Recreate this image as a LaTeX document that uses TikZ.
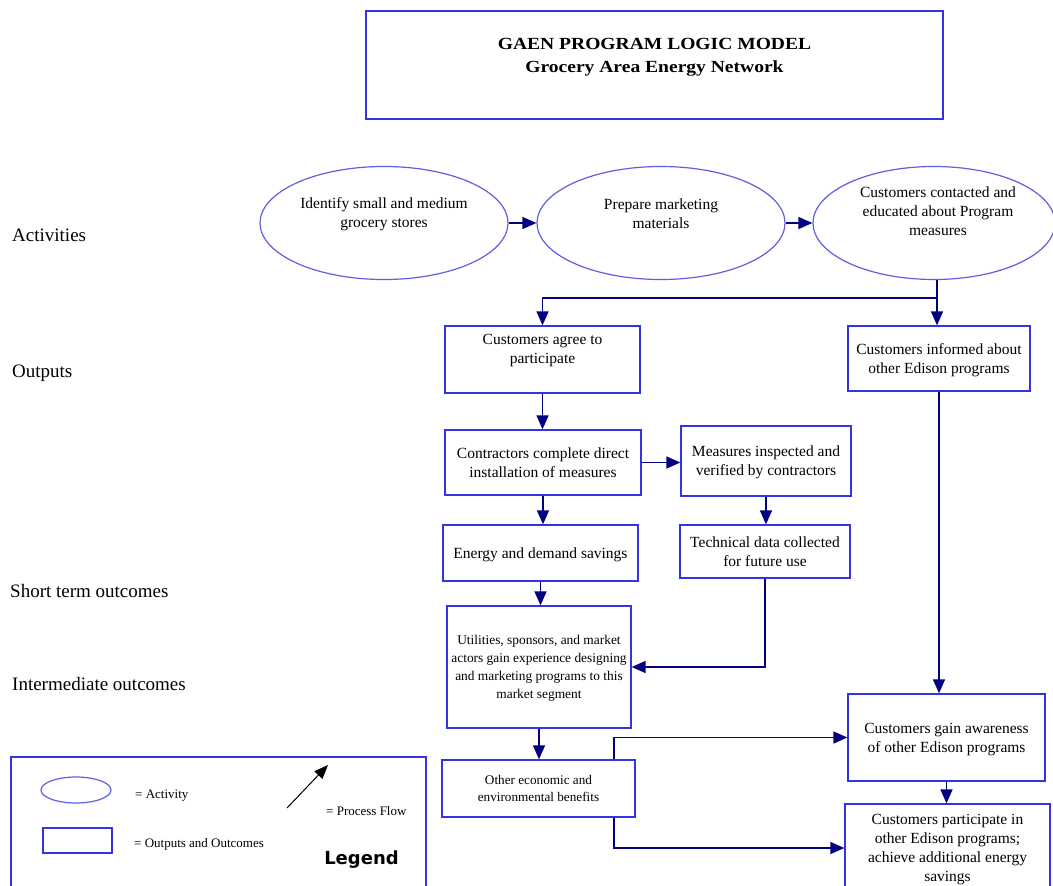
\documentclass[tikz,border=0pt]{standalone}
\usepackage{fontspec}
\setmainfont{Liberation Serif}
\newfontfamily\titlefont{Liberation Serif}[FakeStretch=1.15]
\newfontfamily\legendfont{DejaVu Sans}
\usetikzlibrary{arrows.meta,shapes.geometric}
\definecolor{boxblue}{RGB}{51,51,230}
\definecolor{ovalblue}{RGB}{95,95,225}
\definecolor{flownavy}{RGB}{0,0,128}

\begin{document}
\begin{tikzpicture}[x=1pt,y=-1pt,
  box/.style={draw=boxblue, line width=1.3pt, rectangle, inner sep=0pt},
  oval/.style={draw=ovalblue, line width=1.2pt, ellipse, inner sep=0pt},
  txt/.style={align=center, inner sep=0pt, text depth=0pt, font=\fontsize{15.5}{19}\selectfont},
  smalltxt/.style={align=center, inner sep=0pt, text depth=0pt, font=\fontsize{13.4}{18}\selectfont},
  legendtxt/.style={anchor=west, inner sep=0pt, text depth=0pt, text height=9pt, font=\fontsize{13}{16}\selectfont},
  rowlabel/.style={anchor=west, inner sep=0pt, text depth=0pt, text height=13pt, font=\fontsize{19}{23}\selectfont},
  flowline/.style={draw=flownavy, line width=1.5pt},
  flow/.style={flowline, -{Triangle[length=14pt,width=12pt]}},
  ]
\useasboundingbox (0,0) rectangle (1053,886);
\clip (0,0) rectangle (1053,886);
\fill[white] (0,0) rectangle (1053,886);

% title block
\node[box, minimum width=577pt, minimum height=108pt] (title) at (654.5,65) {};
\node[align=center, inner sep=0pt, text depth=0pt, font=\titlefont\bfseries\fontsize{17}{23}\selectfont]
  (titletext) at (654.5,55.5) {GAEN PROGRAM LOGIC MODEL\\Grocery Area Energy Network};

% row labels
\node[rowlabel] (lact) at (12,235) {Activities};
\node[rowlabel] (lout) at (12,371) {Outputs};
\node[rowlabel] (lshort) at (10,591) {Short term outcomes};
\node[rowlabel] (linter) at (12,684) {Intermediate outcomes};

% activities
\node[oval, minimum width=248pt, minimum height=113pt] (e1) at (384,223) {};
\node[txt] (e1text) at (384,212.5) {Identify small and medium\\grocery stores};
\node[oval, minimum width=248pt, minimum height=113pt] (e2) at (661,223) {};
\node[txt] (e2text) at (661,213.5) {Prepare marketing\\materials};
\node[oval, minimum width=242pt, minimum height=113pt] (e3) at (934,223) {};
\node[txt] (e3text) at (938,211) {Customers contacted and\\educated about Program\\measures};

% outputs and outcomes
\node[box, minimum width=195pt, minimum height=67pt] (b1) at (542.5,359.5) {};
\node[txt] (b1text) at (542.5,348.5) {Customers agree to\\participate};
\node[box, txt, minimum width=182pt, minimum height=65pt] (b2) at (939,358.5)
  {Customers informed about\\other Edison programs};
\node[box, txt, minimum width=196pt, minimum height=65pt] (b3) at (543,462.5)
  {Contractors complete direct\\installation of measures};
\node[box, txt, minimum width=170pt, minimum height=70pt] (b4) at (766,461)
  {Measures inspected and\\verified by contractors};
\node[box, txt, minimum width=195pt, minimum height=56pt] (b5) at (540.5,553)
  {Energy and demand savings};
\node[box, txt, minimum width=170pt, minimum height=53pt] (b6) at (765,551.5)
  {Technical data collected\\for future use};
\node[box, smalltxt, minimum width=184pt, minimum height=122pt] (b7) at (539,667)
  {Utilities, sponsors, and market\\actors gain experience designing\\and marketing programs to this\\market segment};
\node[box, smalltxt, font=\fontsize{13.2}{17}\selectfont, minimum width=193pt, minimum height=57pt] (b8) at (538.5,788.5)
  {Other economic and\\environmental benefits};
\node[box, txt, minimum width=197pt, minimum height=87pt] (b9) at (946.5,737.5)
  {Customers gain awareness\\of other Edison programs};
\node[box, txt, minimum width=205pt, minimum height=88pt] (b10) at (947.5,848)
  {Customers participate in\\other Edison programs;\\achieve additional energy\\savings};

% process flow
\coordinate (split) at (937,298);
\draw[flow] (e1) -- (e2);
\draw[flow] (e2) -- (e3);
\draw[flowline] (e3.south -| split) -- (split);
\draw[flow] (split) -| (b1.north);
\draw[flow] (split) -- (split |- b2.north);
\draw[flow] (b1.south) -- (b1.south |- b3.north);
\draw[flow] (b3.east) -- (b3.east -| b4.west);
\draw[flow] (b3.south) -- (b3.south |- b5.north);
\draw[flow] (b4.south) -- (b4.south |- b6.north);
\draw[flow] (b5.south) -- (b5.south |- b7.north);
\draw[flow] (b6.south) |- (b7.east);
\draw[flow] (b7.south) -- (b7.south |- b8.north);
\draw[flow] (b2.south) -- (b2.south |- b9.north);
\draw[flow] ([xshift=75.5pt]b8.north) |- (b9.west);
\draw[flow] ([xshift=75.5pt]b8.south) |- (b10.west);
\draw[flow] (b9.south) -- (b9.south |- b10.north);

% legend
\node[box, minimum width=415pt, minimum height=140pt] (legend) at (218.5,827) {};
\node[oval, minimum width=70pt, minimum height=26pt] (legoval) at (76,790) {};
\node[legendtxt] (legact) at (135,794) {= Activity};
\node[box, minimum width=69pt, minimum height=25pt] (legrect) at (77.5,840.5) {};
\node[legendtxt] (legout) at (134,843) {= Outputs and Outcomes};
\coordinate (legtail) at (287,808);
\coordinate (leghead) at (328,765);
\draw[black, line width=1pt, -{Triangle[length=14pt,width=11pt]}] (legtail) -- (leghead);
\node[legendtxt] (legflow) at (326,811) {= Process Flow};
\node[inner sep=0pt, font=\legendfont\bfseries\fontsize{18}{22}\selectfont] (legtitle) at (361.5,860) {Legend};
\end{tikzpicture}
\end{document}
